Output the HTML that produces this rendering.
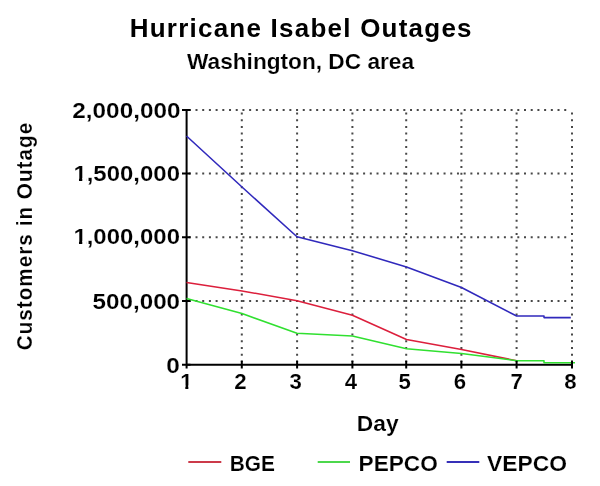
<!DOCTYPE html>
<html><head><meta charset="utf-8"><title>Hurricane Isabel Outages</title>
<style>
html,body{margin:0;padding:0;background:#fff;width:600px;height:486px;overflow:hidden}
svg{display:block}
text{font-family:"Liberation Sans",Arial,sans-serif;font-weight:bold;fill:#000;stroke:#fff;stroke-width:0.15px}
</style></head><body>
<svg width="600" height="486" viewBox="0 0 600 486">
<rect width="600" height="486" fill="#fff"/>
<!-- titles -->
<text transform="translate(129.7,37.2) scale(0.98,1)" font-size="26.5" textLength="348.8" lengthAdjust="spacing" style="stroke:none">Hurricane Isabel Outages</text>
<text x="187" y="68.7" font-size="21.5" textLength="227" lengthAdjust="spacingAndGlyphs">Washington, DC area</text>
<!-- y axis title -->
<text transform="translate(31.5,350.3) rotate(-90) scale(0.94,1)" x="0" y="0" font-size="22" textLength="242" lengthAdjust="spacing">Customers in Outage</text>
<!-- grid -->
<g stroke="#484848" stroke-width="2" stroke-dasharray="2 4.704" fill="none">
<path d="M188.8 110H570M188.8 173.6H570M188.8 237.25H570M188.8 300.9H570"/>
</g>
<g stroke="#484848" stroke-width="2" stroke-dasharray="2 4.7" fill="none">
<path d="M241.8 112.5V362M297.1 112.5V362M352.4 112.5V362M406.2 112.5V362M461.4 112.5V362M516.6 112.5V362M572 112.5V362"/>
</g>
<!-- axes -->
<g stroke="#000" stroke-width="2" fill="none">
<path d="M186.6 109V368.5M185.6 364.8H573"/>
<path d="M182 110H190.5M182 173.6H190.5M182 237.25H190.5M182 300.9H190.5M182 364.8H190.5"/>
</g>
<!-- y labels -->
<g font-size="22">
<text x="72.3" y="117.7" textLength="108.2" lengthAdjust="spacingAndGlyphs">2,000,000</text>
<text x="73.4" y="181.3" textLength="106.6" lengthAdjust="spacingAndGlyphs">1,500,000</text>
<text x="73.4" y="244.2" textLength="106.6" lengthAdjust="spacingAndGlyphs">1,000,000</text>
<text x="92.5" y="308.7" textLength="87.6" lengthAdjust="spacingAndGlyphs">500,000</text>
<text x="166.3" y="372.7" textLength="13.6" lengthAdjust="spacingAndGlyphs">0</text>
</g>
<!-- x labels -->
<g font-size="22.2" text-anchor="middle">
<text x="186.3" y="388.7">1</text>
<text x="240.3" y="388.7">2</text>
<text x="295.6" y="388.7">3</text>
<text x="350.9" y="388.7">4</text>
<text x="404.7" y="388.7">5</text>
<text x="459.9" y="388.7">6</text>
<text x="516.6" y="388.7">7</text>
<text x="570.5" y="388.7">8</text>
</g>
<text x="356.8" y="430.6" font-size="21.5" textLength="41.8" lengthAdjust="spacingAndGlyphs">Day</text>
<!-- hide serif foot of "1" (Arial-style one) -->
<g fill="#fff">
<rect x="74.4" y="178" width="4.59" height="3.6"/><rect x="82.28" y="178" width="4.0" height="3.6"/>
<rect x="74.4" y="240.9" width="4.59" height="3.6"/><rect x="82.28" y="240.9" width="4.0" height="3.6"/>
<rect x="180.8" y="385.4" width="4.51" height="3.6"/><rect x="188.35" y="385.4" width="3.8" height="3.6"/>
</g>
<!-- data -->
<g fill="none" stroke-width="1.55" stroke-linejoin="round">
<polyline stroke="#dc1f3c" points="186.5,282.5 242,290.9 297,300.8 352.4,315.2 406.5,339.5 461.5,349.5 516.6,360.7"/>
<polyline stroke="#30e030" points="186.5,298.4 242,313.6 297,333.2 352.4,336 406.5,348.8 461.5,353.4 516.6,360.7 544,360.7 544,362.7 575,362.7"/>
<polyline stroke="#3029bc" points="186.5,136 242,187 297,236.8 352.4,250.7 406.5,267 461.5,287.5 516.6,316 544,316 544,317.6 570.8,317.6"/>
</g>
<g stroke="#000" stroke-width="2" fill="none">
<path d="M241.8 360.8V368.5M297.1 360.8V368.5M352.4 360.8V368.5M406.2 360.8V368.5M461.4 360.8V368.5M516.6 360.8V368.5M572 360.8V368.5"/>
</g>
<!-- legend -->
<g stroke-width="2">
<path d="M188.3 461.9H221.3" stroke="#cc3a4a"/>
<path d="M317.7 461.9H350" stroke="#4cd84c"/>
<path d="M446.7 461.9H479.3" stroke="#3630b8"/>
</g>
<g font-size="21.5">
<text x="229.8" y="471.2" textLength="45.2" lengthAdjust="spacingAndGlyphs">BGE</text>
<text x="358.6" y="471.2" textLength="79.2" lengthAdjust="spacingAndGlyphs">PEPCO</text>
<text x="487" y="471.2" textLength="80" lengthAdjust="spacingAndGlyphs">VEPCO</text>
</g>
</svg>
</body></html>
